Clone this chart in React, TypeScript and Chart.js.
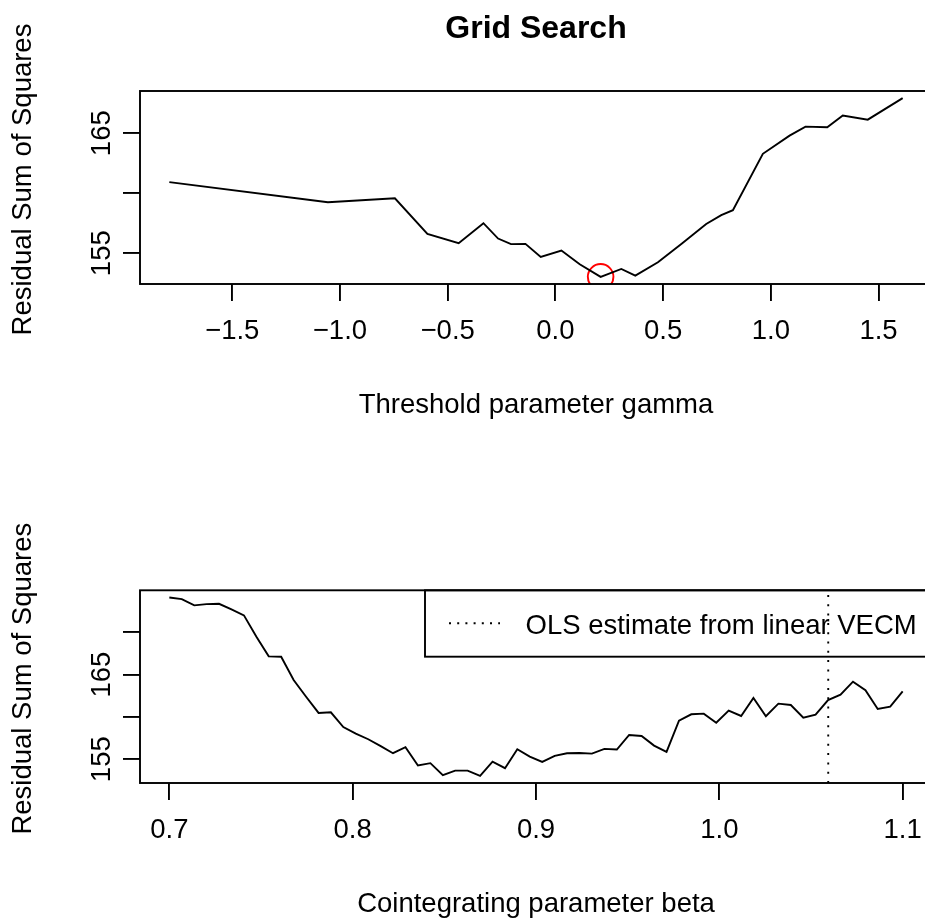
import React, { useEffect, useRef } from 'react';
import { Chart, registerables } from 'chart.js';

Chart.register(...registerables);

// ---------- data ----------
const GAMMA = [-1.792, -1.056, -0.745, -0.594, -0.449, -0.334, -0.266, -0.206, -0.139, -0.068, 0.028, 0.113, 0.21, 0.306, 0.371, 0.476, 0.589, 0.7, 0.77, 0.824, 0.963, 1.087, 1.161, 1.262, 1.334, 1.45, 1.612];
const RSS_GAMMA = [160.92, 159.25, 159.58, 156.61, 155.83, 157.5, 156.22, 155.76, 155.78, 154.69, 155.22, 154.08, 153.03, 153.69, 153.13, 154.25, 155.83, 157.44, 158.17, 158.58, 163.28, 164.8, 165.55, 165.5, 166.47, 166.13, 167.92];
const BEST_GAMMA = [0.21];
const BEST_RSS = [153.03];

const BETA = [0.7, 0.7068, 0.7136, 0.7203, 0.7271, 0.7339, 0.7407, 0.7475, 0.7542, 0.761, 0.7678, 0.7746, 0.7814, 0.7881, 0.7949, 0.8017, 0.8085, 0.8153, 0.822, 0.8288, 0.8356, 0.8424, 0.8492, 0.8559, 0.8627, 0.8695, 0.8763, 0.8831, 0.8898, 0.8966, 0.9034, 0.9102, 0.9169, 0.9237, 0.9305, 0.9373, 0.9441, 0.9508, 0.9576, 0.9644, 0.9712, 0.978, 0.9847, 0.9915, 0.9983, 1.0051, 1.0119, 1.0186, 1.0254, 1.0322, 1.039, 1.0458, 1.0525, 1.0593, 1.0661, 1.0729, 1.0797, 1.0864, 1.0932, 1.1];
const RSS_BETA = [174.13, 173.93, 173.19, 173.34, 173.38, 172.72, 172.01, 169.48, 167.16, 167.12, 164.37, 162.39, 160.47, 160.55, 158.8, 158.02, 157.36, 156.54, 155.71, 156.42, 154.25, 154.53, 153.11, 153.65, 153.65, 153.03, 154.72, 153.94, 156.18, 155.31, 154.68, 155.39, 155.71, 155.74, 155.66, 156.22, 156.14, 157.87, 157.75, 156.61, 155.86, 159.56, 160.31, 160.39, 159.32, 160.74, 160.11, 162.24, 160.08, 161.57, 161.41, 159.91, 160.27, 162.0, 162.63, 164.17, 163.15, 160.94, 161.21, 163.03];
const OLS_BETA = 1.0594;

const TOP_X_TICKS = [-1.5, -1, -0.5, 0, 0.5, 1, 1.5];
const TOP_X_LABELS = ['\u22121.5', '\u22121.0', '\u22120.5', '0.0', '0.5', '1.0', '1.5'];
const TOP_Y_TICKS = [155, 160, 165];
const TOP_Y_LABELS = ['155', '', '165'];
const BOT_X_TICKS = [0.7, 0.8, 0.9, 1.0, 1.1];
const BOT_X_LABELS = ['0.7', '0.8', '0.9', '1.0', '1.1'];
const BOT_Y_TICKS = [155, 160, 165, 170];
const BOT_Y_LABELS = ['155', '', '165', ''];

const TITLE = 'Grid Search';
const Y_TITLE = 'Residual Sum of Squares';
const TOP_X_TITLE = 'Threshold parameter gamma';
const BOT_X_TITLE = 'Cointegrating parameter beta';
const LEGEND_TEXT = 'OLS estimate from linear VECM';

// ---------- styling ----------
const FONT = '"Liberation Sans", Arial, Helvetica, sans-serif';
const FS = 27.5;
const LW = 1.9;
const CANVAS_W = 960;
const CANVAS_H = 459;

function pad(arr: number[]) {
  const mn = Math.min(...arr);
  const mx = Math.max(...arr);
  const r = mx - mn;
  return [mn - 0.04 * r, mx + 0.04 * r];
}

type Deco = {
  title?: string;
  xTitle: string;
  xTicks: number[];
  xLabels: string[];
  yTicks: number[];
  yLabels: string[];
  legend?: boolean;
};

function decoPlugin(d: Deco) {
  return {
    id: 'rdeco',
    afterDraw(chart: any) {
      const ctx = chart.ctx as CanvasRenderingContext2D;
      const { left, right, top, bottom } = chart.chartArea;
      const xs = chart.scales.x;
      const ys = chart.scales.y;
      ctx.save();
      ctx.strokeStyle = '#000';
      ctx.fillStyle = '#000';
      ctx.lineWidth = LW;
      ctx.setLineDash([]);
      ctx.strokeRect(left, top, right - left, bottom - top);

      ctx.font = `${FS}px ${FONT}`;
      ctx.textAlign = 'center';
      ctx.textBaseline = 'alphabetic';
      d.xTicks.forEach((v, i) => {
        const lab = d.xLabels[i];
        if (lab) ctx.fillText(lab, xs.getPixelForValue(v), bottom + 55);
      });
      d.yTicks.forEach((v, i) => {
        const lab = d.yLabels[i];
        if (!lab) return;
        ctx.save();
        ctx.translate(left - 30, ys.getPixelForValue(v));
        ctx.rotate(-Math.PI / 2);
        ctx.fillText(lab, 0, 0);
        ctx.restore();
      });
      const cx = (left + right) / 2;
      ctx.fillText(d.xTitle, cx, bottom + 129);
      ctx.save();
      ctx.translate(left - 109, (top + bottom) / 2 - 8);
      ctx.rotate(-Math.PI / 2);
      ctx.fillText(Y_TITLE, 0, 0);
      ctx.restore();

      if (d.title) {
        ctx.font = `bold 32px ${FONT}`;
        ctx.fillText(d.title, cx, top - 53);
      }

      if (d.legend) {
        const lx = right - 507;
        const lh = 66.4;
        ctx.lineWidth = LW;
        ctx.strokeRect(lx, top, right - lx, lh);
        ctx.beginPath();
        ctx.setLineDash([2, 6.2]);
        ctx.moveTo(lx + 24, top + 33);
        ctx.lineTo(lx + 75, top + 33);
        ctx.stroke();
        ctx.setLineDash([]);
        ctx.font = `${FS}px ${FONT}`;
        ctx.textAlign = 'left';
        ctx.fillText(LEGEND_TEXT, lx + 100.5, top + 44);
      }
      ctx.restore();
    },
  };
}

function axisOpts(min: number, max: number, ticks: number[], isX: boolean, size: number) {
  return {
    type: 'linear',
    position: isX ? 'bottom' : 'left',
    min,
    max,
    afterBuildTicks: (s: any) => {
      s.ticks = ticks.map((v) => ({ value: v }));
    },
    afterFit: (s: any) => {
      if (isX) s.height = size;
      else s.width = size;
    },
    ticks: { display: false },
    grid: {
      display: true,
      drawOnChartArea: false,
      drawTicks: true,
      tickLength: 17,
      tickWidth: LW,
      tickColor: '#000',
      color: '#000',
      lineWidth: LW,
    },
    border: { display: false },
  };
}

function topConfig(): any {
  const [xmin, xmax] = pad(GAMMA);
  const [ymin, ymax] = pad(RSS_GAMMA);
  return {
    type: 'scatter',
    data: {
      datasets: [
        {
          data: GAMMA.map((x, i) => ({ x, y: RSS_GAMMA[i] })),
          showLine: true,
          borderColor: '#000',
          borderWidth: LW,
          pointRadius: 0,
          tension: 0,
        },
        {
          data: BEST_GAMMA.map((x, i) => ({ x, y: BEST_RSS[i] })),
          showLine: false,
          pointRadius: 12.8,
          pointBorderColor: '#ff0000',
          pointBackgroundColor: 'rgba(0,0,0,0)',
          pointBorderWidth: LW,
          borderColor: '#ff0000',
          backgroundColor: 'rgba(0,0,0,0)',
        },
      ],
    },
    options: {
      animation: false,
      responsive: false,
      events: [],
      layout: { padding: { left: 0, right: 28, top: 91, bottom: 0 } },
      plugins: { legend: { display: false }, tooltip: { enabled: false } },
      scales: {
        x: axisOpts(xmin, xmax, TOP_X_TICKS, true, CANVAS_H - 284),
        y: axisOpts(ymin, ymax, TOP_Y_TICKS, false, 140),
      },
    },
    plugins: [
      decoPlugin({
        title: TITLE,
        xTitle: TOP_X_TITLE,
        xTicks: TOP_X_TICKS,
        xLabels: TOP_X_LABELS,
        yTicks: TOP_Y_TICKS,
        yLabels: TOP_Y_LABELS,
      }),
    ],
  };
}

function botConfig(): any {
  const [xmin, xmax] = pad(BETA);
  const [ymin, ymax] = pad(RSS_BETA);
  const top = 590.3 - CANVAS_H;
  const bottom = 783 - CANVAS_H;
  return {
    type: 'scatter',
    data: {
      datasets: [
        {
          data: BETA.map((x, i) => ({ x, y: RSS_BETA[i] })),
          showLine: true,
          borderColor: '#000',
          borderWidth: LW,
          pointRadius: 0,
          tension: 0,
        },
        {
          data: [
            { x: OLS_BETA, y: ymin },
            { x: OLS_BETA, y: ymax },
          ],
          showLine: true,
          borderColor: '#000',
          borderWidth: LW,
          borderDash: [2, 7.3],
          pointRadius: 0,
        },
      ],
    },
    options: {
      animation: false,
      responsive: false,
      events: [],
      layout: { padding: { left: 0, right: 28, top, bottom: 0 } },
      plugins: { legend: { display: false }, tooltip: { enabled: false } },
      scales: {
        x: axisOpts(xmin, xmax, BOT_X_TICKS, true, CANVAS_H - bottom),
        y: axisOpts(ymin, ymax, BOT_Y_TICKS, false, 140),
      },
    },
    plugins: [
      decoPlugin({
        xTitle: BOT_X_TITLE,
        xTicks: BOT_X_TICKS,
        xLabels: BOT_X_LABELS,
        yTicks: BOT_Y_TICKS,
        yLabels: BOT_Y_LABELS,
        legend: true,
      }),
    ],
  };
}

export default function App() {
  const topRef = useRef<HTMLCanvasElement>(null);
  const botRef = useRef<HTMLCanvasElement>(null);
  useEffect(() => {
    const c1 = new Chart(topRef.current as HTMLCanvasElement, topConfig());
    const c2 = new Chart(botRef.current as HTMLCanvasElement, botConfig());
    return () => {
      c1.destroy();
      c2.destroy();
    };
  }, []);
  return (
    <div
      style={{
        position: 'absolute',
        left: 0,
        top: 0,
        width: 925,
        height: 918,
        overflow: 'hidden',
        background: '#fff',
      }}
    >
      <canvas
        ref={topRef}
        width={CANVAS_W}
        height={CANVAS_H}
        style={{ position: 'absolute', left: 0, top: 0, width: CANVAS_W, height: CANVAS_H, display: 'block' }}
      />
      <canvas
        ref={botRef}
        width={CANVAS_W}
        height={CANVAS_H}
        style={{ position: 'absolute', left: 0, top: CANVAS_H, width: CANVAS_W, height: CANVAS_H, display: 'block' }}
      />
    </div>
  );
}
